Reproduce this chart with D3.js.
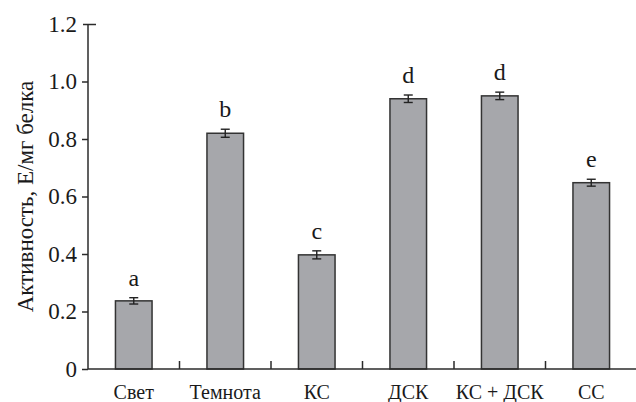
<!DOCTYPE html>
<html>
<head>
<meta charset="utf-8">
<script src="https://cdn.jsdelivr.net/npm/d3@7"></script>
<style>
  html, body { margin: 0; padding: 0; background: #fff; }
  svg { display: block; }
</style>
</head>
<body>
<svg id="chart" width="636" height="402"></svg>
<script>
// Activity by treatment, with standard error and significance letters
const categories = ["Свет", "Темнота", "КС", "ДСК", "КС + ДСК", "СС"];
const values = [0.237, 0.820, 0.397, 0.940, 0.950, 0.648];
const errors = [0.011, 0.014, 0.014, 0.013, 0.013, 0.012];
const letters = ["a", "b", "c", "d", "d", "e"];
const yTicks = [0, 0.2, 0.4, 0.6, 0.8, 1.0, 1.2];
const yTitle = "Активность, Е/мг белка";

const serif = "'Liberation Serif', 'Times New Roman', Times, Tinos, 'DejaVu Serif', serif";
const svg = d3.select("#chart").style("font-family", serif);
const plotLeft = 88, plotRight = 637, plotTop = 24, plotBottom = 369;
const axisColor = "#2b2b2b";
const textColor = "#1a1a1a";

const x = d3.scaleBand()
  .domain(categories)
  .range([plotLeft, plotRight])
  .paddingInner(0.6)
  .paddingOuter(0.3);

const y = d3.scaleLinear().domain([0, 1.2]).range([plotBottom, plotTop]);

// Bars
svg.append("g").selectAll("rect")
  .data(values)
  .join("rect")
  .attr("x", (d, i) => x(categories[i]))
  .attr("y", d => y(d))
  .attr("width", x.bandwidth())
  .attr("height", d => y(0) - y(d))
  .attr("fill", "#a6a7ab")
  .attr("stroke", "#333")
  .attr("stroke-width", 1.5);

// Error bars
const eb = svg.append("g").attr("stroke", "#222").attr("stroke-width", 1.4);
values.forEach((v, i) => {
  const cx = x(categories[i]) + x.bandwidth() / 2;
  const y1 = y(v + errors[i]), y2 = y(v - errors[i]);
  eb.append("line").attr("x1", cx).attr("x2", cx).attr("y1", y1).attr("y2", y2);
  eb.append("line").attr("x1", cx - 4.5).attr("x2", cx + 4.5).attr("y1", y1).attr("y2", y1);
  eb.append("line").attr("x1", cx - 4.5).attr("x2", cx + 4.5).attr("y1", y2).attr("y2", y2);
});

// Significance letters
svg.append("g").selectAll("text")
  .data(letters)
  .join("text")
  .attr("x", (d, i) => x(categories[i]) + x.bandwidth() / 2)
  .attr("y", (d, i) => y(values[i] + errors[i]) - 12)
  .attr("text-anchor", "middle")
  .style("font-family", serif)
  .attr("font-size", 24)
  .attr("fill", textColor)
  .text(d => d);

// Y axis
const yAxis = svg.append("g")
  .attr("transform", `translate(${plotLeft},0)`)
  .call(d3.axisLeft(y).tickValues(yTicks).tickSize(6).tickPadding(5)
    .tickFormat(d => d === 0 ? "0" : d3.format(".1f")(d)));
yAxis.attr("font-family", null);
yAxis.select(".domain").attr("d", `M0,${plotTop}V${plotBottom}`);
yAxis.selectAll("line, path").attr("stroke", axisColor).attr("stroke-width", 1.5);
yAxis.selectAll(".tick").filter(d => d === 1.2).select("line").attr("x1", 8).attr("x2", -5);
yAxis.selectAll("text")
  .style("font-family", serif)
  .attr("font-size", 23)
  .attr("fill", textColor);

// X axis baseline and boundary ticks between categories
const gx = svg.append("g").attr("stroke", axisColor).attr("stroke-width", 1.5);
gx.append("line").attr("x1", plotLeft).attr("x2", 636).attr("y1", plotBottom).attr("y2", plotBottom);
categories.slice(0, -1).forEach(c => {
  const bx = x(c) + x.bandwidth() / 2 + x.step() / 2;
  gx.append("line").attr("x1", bx).attr("x2", bx).attr("y1", plotBottom).attr("y2", plotBottom - 8);
});

// Category labels
svg.append("g").selectAll("text")
  .data(categories)
  .join("text")
  .attr("x", d => x(d) + x.bandwidth() / 2)
  .attr("y", 399)
  .attr("text-anchor", "middle")
  .style("font-family", serif)
  .attr("font-size", 20)
  .attr("fill", textColor)
  .text(d => d);

// Y axis title
svg.append("text")
  .attr("transform", `translate(33,${(plotTop + plotBottom) / 2}) rotate(-90)`)
  .attr("text-anchor", "middle")
  .style("font-family", serif)
  .attr("font-size", 23)
  .attr("fill", textColor)
  .text(yTitle);
</script>
</body>
</html>
